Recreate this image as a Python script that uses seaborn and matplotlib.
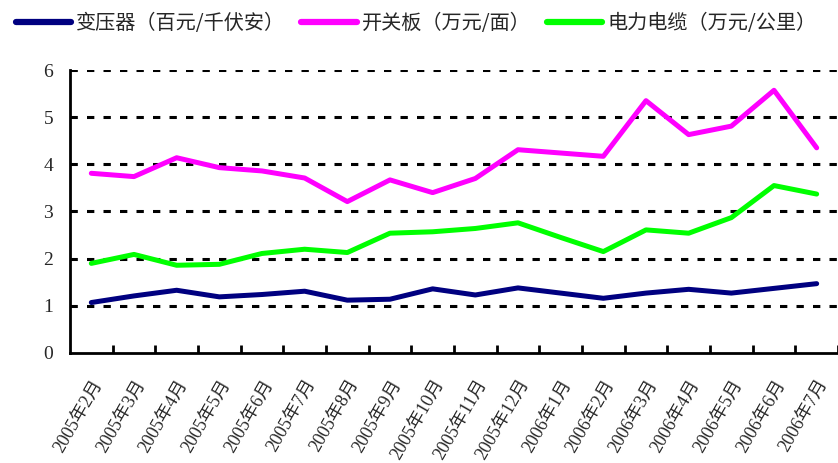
import numpy as np
import pandas as pd
import seaborn as sns
import matplotlib.pyplot as plt
from matplotlib.ticker import FixedLocator

months = ["2005年2月", "2005年3月", "2005年4月", "2005年5月", "2005年6月", "2005年7月",
          "2005年8月", "2005年9月", "2005年10月", "2005年11月", "2005年12月", "2006年1月",
          "2006年2月", "2006年3月", "2006年4月", "2006年5月", "2006年6月", "2006年7月"]

transformer = [1.07, 1.21, 1.33, 1.19, 1.24, 1.31, 1.12, 1.14, 1.36, 1.23, 1.38, 1.27,
               1.16, 1.27, 1.35, 1.27, 1.37, 1.47]
switchgear = [3.81, 3.74, 4.14, 3.93, 3.86, 3.71, 3.21, 3.67, 3.40, 3.70, 4.31, 4.24,
              4.17, 5.35, 4.63, 4.81, 5.57, 4.35]
cable = [1.90, 2.09, 1.86, 1.88, 2.11, 2.20, 2.13, 2.54, 2.57, 2.64, 2.76, 2.45,
         2.15, 2.61, 2.54, 2.87, 3.55, 3.37]

names = ["变压器（百元/千伏安）", "开关板（万元/面）", "电力电缆（万元/公里）"]
colors = ["#000080", "#FF00FF", "#00FF00"]

df = pd.DataFrame({"month": months * 3,
                   "value": transformer + switchgear + cable,
                   "series": [names[0]] * 18 + [names[1]] * 18 + [names[2]] * 18})

sns.set_style("white")
plt.rcParams['font.family'] = ['Liberation Serif', 'Noto Sans CJK SC']

fig = plt.figure(figsize=(8.38, 4.63), dpi=100)
ax = fig.add_axes([0.0835, 0.2376, 0.9165, 0.6112])

sns.lineplot(data=df, x="month", y="value", hue="series", palette=colors,
             linewidth=3.6, ax=ax, sort=False)

ax.set_xlim(-0.5, 17.5)
ax.set_ylim(0, 6)
ax.set_yticks(range(7))
for y in range(1, 7):
    ax.axhline(y, color="black", lw=2.2, linestyle=(0, (2.4, 3.0)), zorder=0)

for s in ["top", "right"]:
    ax.spines[s].set_visible(False)
for s in ["left", "bottom"]:
    ax.spines[s].set_color("black")
    ax.spines[s].set_linewidth(2)

ax.set_xticks(range(18))
ax.set_xticklabels(months, rotation=60, ha="right", rotation_mode="anchor",
                   fontsize=13)
ax.xaxis.set_minor_locator(FixedLocator(np.arange(0.5, 18, 1)))
ax.tick_params(axis="x", which="major", length=0, pad=17)
ax.tick_params(axis="x", which="minor", direction="in", length=6, width=2,
               color="black", bottom=True)
ax.tick_params(axis="y", length=0, pad=12, labelsize=14)
ax.set_xlabel("")
ax.set_ylabel("")

handles, labels = ax.get_legend_handles_labels()
ax.legend(handles, labels, loc="upper left", bbox_to_anchor=(-0.003, 1.01),
          bbox_transform=fig.transFigure, ncol=3, frameon=False,
          handlelength=2.75, handletextpad=0.25, columnspacing=0.8,
          prop={"family": "Noto Sans CJK SC", "size": 14.5})
for line in ax.get_legend().get_lines():
    line.set_linewidth(4.5)

plt.savefig("out.png", dpi=100)
plt.close()
